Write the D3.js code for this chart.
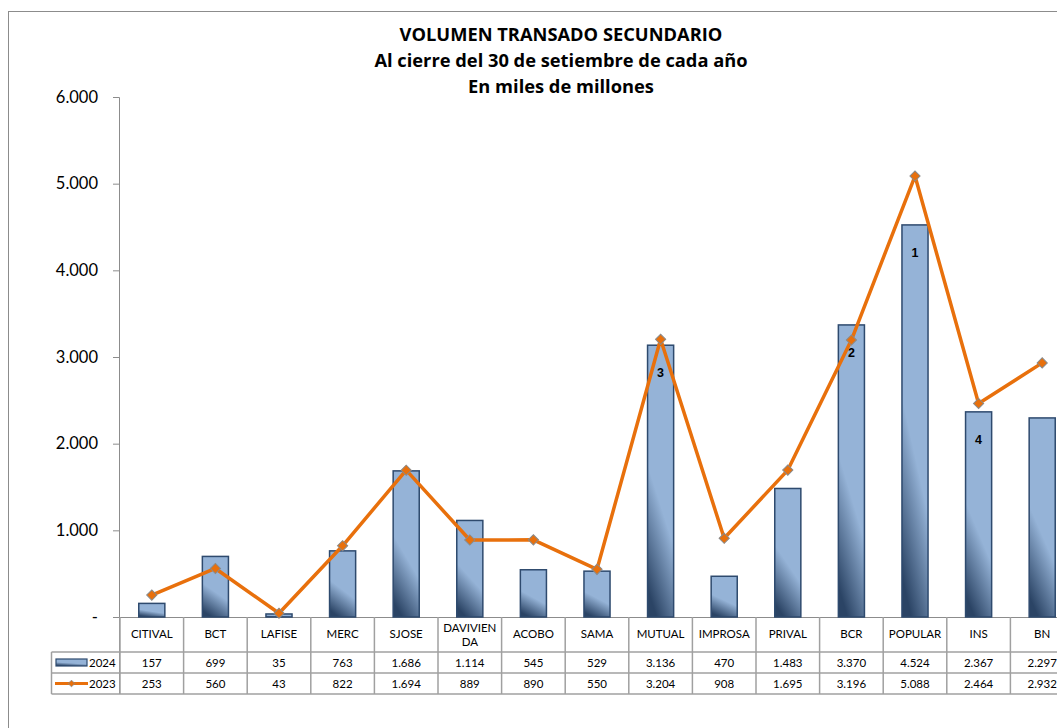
<!DOCTYPE html>
<html>
<head>
<meta charset="utf-8">
<script src="https://cdn.jsdelivr.net/npm/d3@7"></script>
<style>
  html, body { margin: 0; padding: 0; background: #fff; }
  svg { display: block; font-family: Lato, "Liberation Sans", sans-serif; }
  text { fill: #000; }
</style>
</head>
<body>
<svg id="chart" width="1057" height="728"></svg>
<script>
// ---- Data ----
const categories = ["CITIVAL","BCT","LAFISE","MERC","SJOSE","DAVIVIENDA","ACOBO","SAMA","MUTUAL","IMPROSA","PRIVAL","BCR","POPULAR","INS","BN"];
const categoryLabels = [["CITIVAL"],["BCT"],["LAFISE"],["MERC"],["SJOSE"],["DAVIVIEN","DA"],["ACOBO"],["SAMA"],["MUTUAL"],["IMPROSA"],["PRIVAL"],["BCR"],["POPULAR"],["INS"],["BN"]];
const values2024 = [157, 699, 35, 763, 1686, 1114, 545, 529, 3136, 470, 1483, 3370, 4524, 2367, 2297];
const values2023 = [253, 560, 43, 822, 1694, 889, 890, 550, 3204, 908, 1695, 3196, 5088, 2464, 2932];
const seriesNames = ["2024", "2023"];
const rankLabels = ["", "", "", "", "", "", "", "", "3", "", "", "2", "1", "4", ""];
const yTicks = [0, 1000, 2000, 3000, 4000, 5000, 6000];
const titleLines = ["VOLUMEN TRANSADO SECUNDARIO", "Al cierre del 30 de setiembre de cada año", "En miles de millones"];

// ---- Setup ----
const svg = d3.select("#chart");
const locale = d3.formatLocale({decimal: ",", thousands: ".", grouping: [3], currency: ["", ""]});
const fmt = locale.format(",d");

const plotLeft = 119, plotRight = 1074, plotTop = 97, plotBottom = 617;
const x = d3.scaleBand().domain(categories).range([plotLeft + 1, plotRight]).padding(0);
const y = d3.scaleLinear().domain([0, 6000]).range([plotBottom, plotTop]);

const orange = "#E8700C";
const barStroke = "#2E4A6E";

// Gradient
const defs = svg.append("defs");
const grad = defs.append("linearGradient").attr("id", "barGrad")
  .attr("x1", 0.35).attr("y1", 1).attr("x2", 0.65).attr("y2", 0);
grad.append("stop").attr("offset", 0).attr("stop-color", "#2B4465");
grad.append("stop").attr("offset", 0.42).attr("stop-color", "#95B3D7");
grad.append("stop").attr("offset", 1).attr("stop-color", "#95B3D7");

// Outer border
svg.append("rect").attr("x", 8.5).attr("y", 11.5).attr("width", 1100).attr("height", 800)
  .attr("fill", "none").attr("stroke", "#8c8c8c").attr("stroke-width", 1);

// Title
svg.append("g").selectAll("text").data(titleLines).join("text")
  .attr("x", 561).attr("y", (d, i) => 41 + i * 26)
  .attr("text-anchor", "middle").attr("font-size", 18.3).attr("font-weight", "bold")
  .style("font-family", "'Open Sans', sans-serif")
  .text(d => d);

// Y axis
const yAxis = d3.axisLeft(y).tickValues(yTicks).tickSize(6).tickPadding(15)
  .tickFormat(d => d === 0 ? "-" : fmt(d));
const gy = svg.append("g").attr("transform", `translate(${plotLeft},0)`).call(yAxis);
gy.select(".domain").attr("stroke", "#8c8c8c").attr("d", `M-6,${plotTop}.5H0.5V${plotBottom + 77}`);
gy.selectAll(".tick line").attr("stroke", "#8c8c8c");
gy.selectAll(".tick text").attr("font-size", 16.5).style("font-family", "Lato, sans-serif").attr("fill", "#000");

// Baseline
svg.append("line").attr("x1", plotLeft).attr("x2", plotRight).attr("y1", plotBottom + 0.5).attr("y2", plotBottom + 0.5)
  .attr("stroke", "#8c8c8c").attr("stroke-width", 1.2);

// Bars
const barW = x.bandwidth() * 0.41;
svg.append("g").selectAll("rect").data(values2024).join("rect")
  .attr("x", (d, i) => x(categories[i]) + (x.bandwidth() - barW) / 2)
  .attr("y", d => y(d))
  .attr("width", barW)
  .attr("height", d => y(0) - y(d))
  .attr("fill", "url(#barGrad)")
  .attr("stroke", barStroke).attr("stroke-width", 1.5);

// Rank labels
svg.append("g").selectAll("text").data(rankLabels).join("text")
  .attr("x", (d, i) => x(categories[i]) + x.bandwidth() / 2)
  .attr("y", (d, i) => y(values2024[i]) + 32)
  .attr("text-anchor", "middle").attr("font-size", 12.5).attr("font-weight", "bold")
  .style("font-family", "'Liberation Sans', Arial, sans-serif")
  .text(d => d);

// Line 2023
const line = d3.line().x((d, i) => x(categories[i]) + x.bandwidth() / 2).y(d => y(d));
svg.append("path").datum(values2023).attr("d", line)
  .attr("fill", "none").attr("stroke", orange).attr("stroke-width", 3.5).attr("stroke-linejoin", "round");
svg.append("g").selectAll("path").data(values2023).join("path")
  .attr("d", d3.symbol().type(d3.symbolSquare).size(52))
  .attr("transform", (d, i) => `translate(${x(categories[i]) + x.bandwidth() / 2},${y(d)}) rotate(45)`)
  .attr("fill", orange).attr("stroke", "#8a8a8a").attr("stroke-width", 1);

// Data table
const tblTop = plotBottom, hdrBottom = 652, row1Bottom = 673, row2Bottom = 694, legLeft = 51.5;
const tg = svg.append("g");
const gridColor = "#a0a0a0";
tg.append("line").attr("x1", plotLeft).attr("x2", plotRight).attr("y1", hdrBottom).attr("y2", hdrBottom).attr("stroke", gridColor).attr("stroke-width", 1.5);
tg.append("line").attr("x1", legLeft).attr("x2", plotLeft).attr("y1", hdrBottom).attr("y2", hdrBottom).attr("stroke", gridColor).attr("stroke-width", 1.5);
tg.append("line").attr("x1", legLeft).attr("x2", plotRight).attr("y1", row1Bottom).attr("y2", row1Bottom).attr("stroke", gridColor).attr("stroke-width", 1.5);
tg.append("line").attr("x1", legLeft).attr("x2", plotRight).attr("y1", row2Bottom).attr("y2", row2Bottom).attr("stroke", gridColor).attr("stroke-width", 1.5);
tg.append("line").attr("x1", legLeft).attr("x2", legLeft).attr("y1", hdrBottom).attr("y2", row2Bottom).attr("stroke", gridColor).attr("stroke-width", 1.5);
tg.selectAll("line.v").data(categories).join("line").attr("class", "v")
  .attr("x1", d => x(d)).attr("x2", d => x(d))
  .attr("y1", tblTop).attr("y2", row2Bottom)
  .attr("stroke", gridColor).attr("stroke-width", 1.5);

tg.selectAll("text.h").data(categoryLabels).join("text").attr("class", "h")
  .attr("x", (d, i) => x(categories[i]) + x.bandwidth() / 2)
  .attr("y", tblTop + 21)
  .attr("text-anchor", "middle").attr("font-size", 11.5)
  .each(function(d) {
    const t = d3.select(this);
    if (d.length === 1) {
      t.append("tspan").text(d[0]);
    } else {
      t.attr("y", tblTop + 15);
      d.forEach((s, k) => t.append("tspan").attr("x", t.attr("x")).attr("dy", k === 0 ? 0 : 14).text(s));
    }
  });

const rows = [values2024, values2023];
const rowMid = [(hdrBottom + row1Bottom) / 2, (row1Bottom + row2Bottom) / 2];
rows.forEach((vals, r) => {
  tg.append("g").selectAll("text").data(vals).join("text")
    .attr("x", (d, i) => x(categories[i]) + x.bandwidth() / 2)
    .attr("y", rowMid[r] + 4)
    .attr("text-anchor", "middle").attr("font-size", 11.5)
    .text(d => fmt(d));
});

// legend keys
const lg = svg.append("g");
lg.append("rect").attr("x", 56).attr("y", rowMid[0] - 3.5).attr("width", 31).attr("height", 7)
  .attr("fill", "url(#barGrad)").attr("stroke", barStroke).attr("stroke-width", 1.2);
lg.append("line").attr("x1", 55).attr("x2", 88).attr("y1", rowMid[1]).attr("y2", rowMid[1])
  .attr("stroke", orange).attr("stroke-width", 3.2);
lg.append("path").attr("d", d3.symbol().type(d3.symbolSquare).size(22))
  .attr("transform", `translate(71.5,${rowMid[1]}) rotate(45)`)
  .attr("fill", orange).attr("stroke", "#8a8a8a").attr("stroke-width", 0.8);
lg.selectAll("text").data(seriesNames).join("text")
  .attr("x", 89).attr("y", (d, i) => rowMid[i] + 4)
  .attr("font-size", 11.5).text(d => d);
</script>
</body>
</html>
